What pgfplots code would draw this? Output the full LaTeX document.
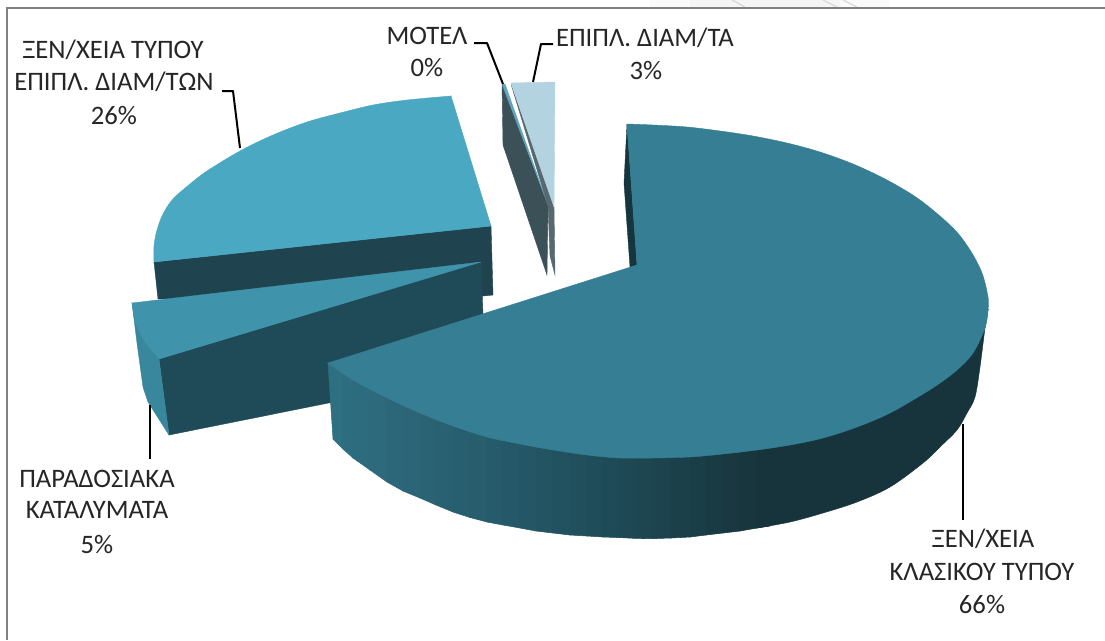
\documentclass[border=0pt]{standalone}
\usepackage{fontspec}
\setmainfont{Carlito}
\usepackage{pgfplots}
\pgfplotsset{compat=1.18}

\definecolor{mainTop}{RGB}{53,126,148}
\definecolor{mainIn}{RGB}{21,54,62}
\definecolor{mainDark}{RGB}{23,52,60}
\definecolor{blueTop}{RGB}{74,168,194}
\definecolor{blueWall}{RGB}{31,68,80}
\definecolor{tradTop}{RGB}{63,147,171}
\definecolor{tradWall}{RGB}{31,74,88}
\definecolor{tradRim}{RGB}{56,135,157}
\definecolor{paleTop}{RGB}{180,211,224}
\definecolor{paleWall}{RGB}{87,104,110}
\definecolor{motelTop}{RGB}{95,165,190}
\definecolor{motelWall}{RGB}{60,80,87}
\definecolor{txt}{RGB}{38,38,38}
\definecolor{frame}{RGB}{128,128,128}

\tikzset{
  face/.style={fill=#1,draw=#1,line width=0.3pt},
  rim/.style={face=#1,smooth,tension=0.55},
  leader/.style={black,line width=1.5pt,line join=round},
  lab/.style={anchor=base,font=\fontsize{20}{22}\selectfont,text=txt,inner sep=0pt},
}

\begin{document}
\begin{tikzpicture}
\begin{axis}[
    scale only axis,
    width=828.75pt,
    height=480pt,
    xmin=0,xmax=1105,
    ymin=0,ymax=640,
    y dir=reverse,
    hide axis,
    clip=true,
    colormap={wall}{rgb255(0cm)=(47,112,131); rgb255(1.72cm)=(38,90,106); rgb255(3.22cm)=(29,69,80); rgb255(4.32cm)=(23,52,60); rgb255(6.62cm)=(23,52,60)},
    point meta min=328,
    point meta max=990,
]
% background, the faint scrap above the frame, and the two frame lines that show
\addplot[fill=white,draw=none] coordinates {(0,0) (1105,0) (1105,640) (0,640)} -- cycle;
\addplot[fill=black!2,draw=none] coordinates {(650,0) (890,0) (890,7) (650,7)} -- cycle;
\addplot[fill=black!4,draw=none] coordinates {(690,0) (840,0) (840,7) (690,7)} -- cycle;
\addplot[draw=black!15,line width=1pt] coordinates {(732,0) (745,7)};
\addplot[draw=black!15,line width=1pt] coordinates {(823,0) (837,7)};
\addplot[draw=black!15,line width=1pt] coordinates {(843,0) (857,7)};
\addplot[draw=frame,line width=2pt] coordinates {(7,640) (7,8) (1105,8)};

% 26% slice
\addplot[face=blueWall] coordinates {(154,262) (491,226) (493,295) (483,296) (158,299)} -- cycle;
\addplot[rim=blueTop] coordinates {(451,96) (407,100) (373,105) (340,113) (307,122) (273,135) (240,151) (207,171) (190,184) (173,199) (163,214) (157,230) (154,246) (154,262)} -- cycle;
\addplot[face=blueTop] coordinates {(451,96) (300,170) (154,262) (491,226)} -- cycle;

% 5% slice
\addplot[face=tradWall] coordinates {(159,359) (481,262) (483,315) (483,372) (169,435)} -- cycle;
\addplot[face=tradRim] coordinates {(132,303) (137,343) (143,387) (148,402) (169,435) (159,359)} -- cycle;
\addplot[face=tradTop] coordinates {(132,303) (481,262) (159,359) (145,342) (135,323)} -- cycle;

% 66% slice: inner cut, dark part of the wall, shaded part of the wall, top
\addplot[face=mainIn] coordinates {(627,124) (624,183) (630,267) (637,265)} -- cycle;
\addplot[rim=mainDark] coordinates {(757,528) (790,522) (823,513) (857,502) (890,487) (923,463) (940,447) (957,430) (967,413) (975,397) (980,367) (985,328) (988,310)} -- cycle;
\addplot[face=mainDark] coordinates {(757,448) (757,528) (988,310)} -- cycle;
\addplot[surf,shader=flat,mesh/rows=2,mesh/cols=28,point meta=x] table {
328 363
343 372
353 378
370 387
387 396
403 403
420 411
436 418
453 424
470 430
487 435
503 439
520 442
536 445
553 448
570 451
587 453
603 455
620 456
636 456
653 456
671 456
690 455
706 454
723 452
740 450
757 448
770 446
333 439
343 449
353 458
370 470
387 482
403 491
420 498
436 505
453 512
470 517.5
487 522
503 525
520 528
536 531
553 533
570 535
587 536
603 537
620 537.6
636 538.4
653 538.6
671 538
690 537
706 535
723 533
740 531
757 528
770 526
};
\addplot[rim=mainTop] coordinates {(627,124) (653,125) (687,127) (720,131) (753,136) (787,143) (820,152) (853,164) (887,180) (920,200) (953,228) (970,250) (982,273) (988,297) (988,310) (985,328) (973,353) (957,370) (940,383) (923,394) (890,413) (857,427) (823,438) (790,445) (757,450) (723,454) (690,457) (653,458)} -- cycle;
\addplot[rim=mainTop] coordinates {(653,458) (620,458) (587,455) (553,450) (520,444) (487,437) (453,426) (420,413) (387,398) (353,380) (328,363)} -- cycle;
\addplot[face=mainTop] coordinates {(627,124) (660,300) (653,457.5) (500,425) (328,363) (637,265)} -- cycle;

% motel and 3% slices
\addplot[face=motelWall] coordinates {(502,84) (503,145) (547,275) (548,205)} -- cycle;
\addplot[face=motelTop] coordinates {(502,84) (505,84) (548,205)} -- cycle;
\addplot[face=paleWall] coordinates {(511,84) (554,207) (555,275) (550,256) (548,206)} -- cycle;
\addplot[face=paleTop] coordinates {(511,83) (555,82) (554,207)} -- cycle;

% leader lines
\addplot[leader] coordinates {(962.5,424) (962.5,520)};
\addplot[leader] coordinates {(150,405) (150,459)};
\addplot[leader] coordinates {(222,91) (233,91) (240,148)};
\addplot[leader] coordinates {(474,43) (487,43) (503,84)};
\addplot[leader] coordinates {(553,44) (541,44) (533,82)};

% labels, one node per line
\node[lab] at (axis cs:113,58) {ΞΕΝ/ΧΕΙΑ ΤΥΠΟΥ};
\node[lab] at (axis cs:114,90) {ΕΠΙΠΛ. ΔΙΑΜ/ΤΩΝ};
\node[lab] at (axis cs:114,124) {26\%};
\node[lab] at (axis cs:97,487) {ΠΑΡΑΔΟΣΙΑΚΑ};
\node[lab] at (axis cs:97,518) {ΚΑΤΑΛΥΜΑΤΑ};
\node[lab] at (axis cs:97,553) {5\%};
\node[lab] at (axis cs:983,547) {ΞΕΝ/ΧΕΙΑ};
\node[lab] at (axis cs:982,580) {ΚΛΑΣΙΚΟΥ ΤΥΠΟΥ};
\node[lab] at (axis cs:982,613) {66\%};
\node[lab] at (axis cs:427,44) {ΜΟΤΕΛ};
\node[lab] at (axis cs:427,76) {0\%};
\node[lab] at (axis cs:645,46) {ΕΠΙΠΛ. ΔΙΑΜ/ΤΑ};
\node[lab] at (axis cs:646,79) {3\%};
\end{axis}
\end{tikzpicture}
\end{document}
